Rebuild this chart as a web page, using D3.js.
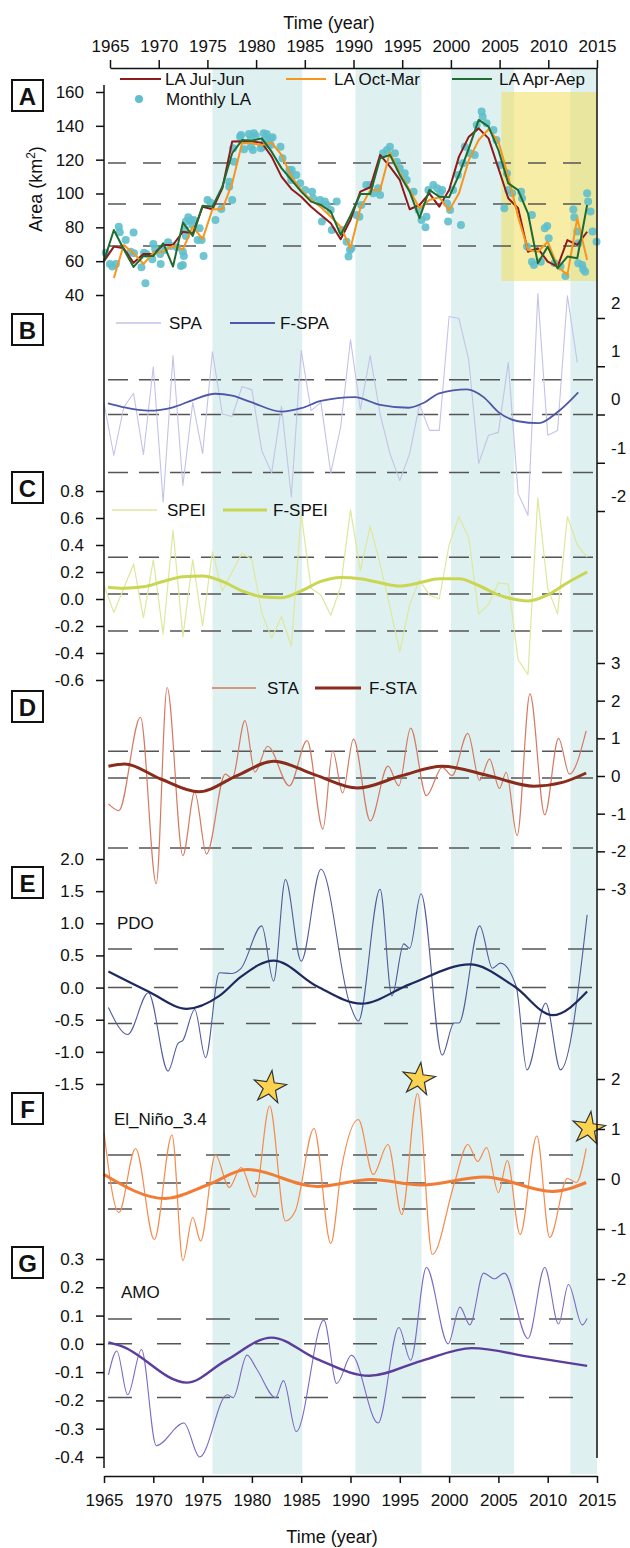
<!DOCTYPE html>
<html>
<head>
<meta charset="utf-8">
<script src="https://cdn.jsdelivr.net/npm/d3@7"></script>
<style>
  body { margin: 0; background: #fff; }
  svg text { font-family: "Liberation Sans", Arial, sans-serif; fill: #111; }
</style>
</head>
<body>
<div id="chart"></div>
<script>
// Seven stacked time series (lake area + climate indices), shared year axis 1965–2015.

// ---- data ----
const laYears = [1965, 1966, 1967, 1968, 1969, 1970, 1971, 1972, 1973, 1974,
  1975, 1976, 1977, 1978, 1979, 1980, 1981, 1982, 1983, 1984,
  1985, 1986, 1987, 1988, 1989, 1990, 1991, 1992, 1993, 1994,
  1995, 1996, 1997, 1998, 1999, 2000, 2001, 2002, 2003, 2004,
  2005, 2006, 2007, 2008, 2009, 2010, 2011, 2012, 2013, 2014];

const laJulJun = [60, 68.6, 67.6, 59, 64.3, 64.3, 69.6, 69.6, 77.4, 76.5,
  92.2, 90.7, 103, 130.7, 130.9, 130.7, 130, 121.8, 110, 102.7,
  98.1, 92.2, 87.3, 82.4, 73, 84.4, 101.1, 103.7, 122.8, 115.9,
  108, 90.7, 93.2, 100.1, 92.2, 102.1, 121.8, 133.6, 138.5, 132.6,
  114.9, 97.2, 91.3, 65.6, 67.6, 59.7, 56.8, 72.5, 69.6, 77.4];

// Oct-Mar starts one season later (1966)
const laOctMar = [50, 69.6, 64.7, 58.3, 65, 65.6, 69, 67, 80.4, 73,
  90.7, 90.7, 106, 129.7, 129.7, 128.7, 130, 122.8, 110, 102,
  96.2, 91.9, 86.3, 80.4, 67.6, 91.3, 102, 102, 124.2, 112,
  102, 91.3, 96.2, 97.8, 89.9, 100.1, 119.7, 131.6, 138, 130.7,
  110, 86.3, 66.6, 65.6, 71.5, 56.8, 51.9, 85.4, 60.7];

const laAprSep = [60.2, 78.4, 67, 56.6, 63, 63, 70.6, 56.8, 82.8, 74.9,
  92.8, 92.2, 104, 123.8, 131.6, 131.2, 132.6, 124.7, 115, 108,
  101.1, 95.2, 93.2, 89.3, 75.5, 87, 99.7, 99.7, 120.8, 122.8,
  111, 101.1, 85.4, 102.1, 98.1, 97.8, 111, 126.7, 143.5, 139.5,
  125.7, 106, 102, 88.3, 58.8, 68.6, 55.8, 62.7, 61.7, 93.2];

const monthlyLA = [
  [1965.17, 65], [1965.6, 58.3], [1965.85, 56.8], [1966.2, 58.3], [1966.5, 80.4], [1966.6, 77.1],
  [1967.2, 72.5], [1967.7, 65.6], [1968.0, 76.9], [1968.04, 64.7], [1968.8, 56.4], [1969.2, 46.9],
  [1969.06, 65], [1969.3, 64.3], [1970.0, 70.2], [1969.9, 61.1], [1970.2, 67], [1970.7, 64.3],
  [1970.75, 58.3], [1971.1, 66.6], [1971.5, 71.2], [1971.8, 69], [1972.4, 68.2], [1972.8, 57.2],
  [1973.0, 57.8], [1973.0, 65.6], [1973.1, 63.1], [1973.3, 74.9], [1973.2, 78.8], [1973.3, 83.4],
  [1973.55, 85.9], [1973.8, 84], [1973.95, 81.4], [1974.1, 84.3], [1974.5, 72.5], [1974.7, 79.4],
  [1974.9, 72.5], [1975.1, 63.1], [1975.5, 96.2], [1975.8, 94.6], [1976.3, 84.3], [1976.9, 90.9],
  [1977.7, 104], [1978.0, 96.2], [1977.7, 107], [1978.2, 118.8], [1978.1, 126.7], [1978.8, 133.6],
  [1978.9, 134.6], [1979.2, 126.1], [1979.7, 135.2], [1979.9, 132.6], [1979.9, 127.7], [1980.2, 135.6],
  [1980.4, 134], [1980.1, 125.7], [1980.9, 126.7], [1981.1, 127.7], [1981.2, 135.6], [1981.3, 131.6],
  [1981.5, 135.2], [1981.7, 129.7], [1981.9, 132.6], [1981.9, 128.7], [1982.1, 133.2], [1982.9, 127.7],
  [1983.1, 120.8], [1983.8, 113.9], [1983.9, 111], [1984.0, 108],
  [1984.04, 113.9], [1984.5, 110.9], [1984.9, 106], [1985.4, 102.1], [1986.1, 101.1], [1986.2, 97.2],
  [1986.9, 96.2], [1987.4, 95.2], [1987.6, 93.2], [1987.1, 83.4], [1988.0, 90.3], [1988.6, 95.2],
  [1988.1, 78.4], [1989.1, 78.4], [1989.6, 71.5], [1989.95, 66.6], [1989.8, 62.7], [1990.1, 67.6],
  [1990.6, 87.3], [1990.9, 86.3], [1991.1, 93.2], [1991.6, 105], [1991.98, 105], [1992.3, 100.1],
  [1992.8, 103.1], [1993.0, 99.1], [1993.3, 123.8], [1993.7, 125.7], [1994.0, 127.7], [1994.5, 123.8],
  [1994.7, 118.8], [1995.0, 114.9], [1995.5, 111.9], [1995.7, 108], [1996.4, 101.1], [1996.9, 90.3],
  [1997.2, 84.3], [1997.6, 80], [1997.7, 86.3], [1997.9, 102.1], [1998.4, 105], [1998.8, 103.1],
  [1999.1, 100.1], [1999.3, 102.1], [1999.8, 94.2], [1999.9, 83.4], [2000.1, 90.3], [2001.2, 81.4],
  [2000.4, 102.1], [2000.9, 110.9], [2001.4, 117.9], [2001.6, 127.7], [2002.1, 123.8], [2002.6, 122.8],
  [2002.8, 140.5], [2003.3, 148.4], [2003.4, 145.4], [2003.8, 141.5], [2004.5, 137.5], [2004.8, 131.6],
  [2005.2, 116.9], [2005.87, 111.9], [2006.0, 102.1], [2006.4, 100.1], [2007.3, 101.1], [2007.4, 97.2],
  [2005.6, 91.3], [2008.4, 87.3], [2007.9, 68.6], [2008.4, 59.7], [2008.6, 57.8], [2009.7, 79.4],
  [2009.95, 80.8], [2010.1, 73.5], [2009.3, 59.7], [2010.7, 58.7], [2011.3, 56.8], [2011.8, 51.3],
  [2012.6, 90.6], [2012.7, 85.9], [2013.0, 77.5], [2013.1, 70.6], [2013.1, 58.7], [2013.5, 57.8],
  [2013.6, 55.2], [2013.8, 53.8], [2014.0, 100.1], [2014.1, 95.2], [2014.35, 89.3], [2014.55, 77.5],
  [2014.95, 71.5]
];

// SPA annual 1965–2013, SPEI annual 1965–2014
const spa = [0.23, -0.85, 0.15, 0.44, -0.83, 0.99, -1.82, 1.22, -1.47, 0.25,
  -0.81, 1.30, 0.01, -0.04, 0.58, 0.51, -0.75, -1.21, 0.17, -1.71,
  1.33, 0.08, 0.25, -1.21, -0.26, 1.55, 0.10, 1.22, 0.01, -0.81,
  -1.37, -0.81, 0.21, -0.33, -0.33, 2.03, 1.99, 1.12, -1.01, -0.43,
  -0.37, 1.08, -1.64, -2.09, 2.50, -0.43, -0.33, 2.46, 1.08];
const fSpa = [[1965.4, 0.23], [1967, 0.15], [1969.5, 0.08], [1972, 0.15], [1974, 0.30], [1976.3, 0.43],
  [1978, 0.39], [1980, 0.25], [1983, 0.06], [1985, 0.13], [1987, 0.28], [1990.4, 0.36], [1993, 0.20],
  [1995.9, 0.14], [1997.5, 0.25], [1999, 0.44], [2001.8, 0.52], [2003.5, 0.36], [2005, 0.05],
  [2007, -0.14], [2009.1, -0.18], [2011, 0.05], [2013.1, 0.46]];

const spei = [0.10, -0.10, 0.08, 0.26, -0.14, 0.29, -0.26, 0.51, -0.28, 0.29,
  -0.20, 0.35, 0.06, 0.20, 0.34, 0.29, -0.10, -0.29, -0.13, -0.35,
  0.63, 0.08, 0.03, -0.12, 0.09, 0.66, 0.21, 0.54, 0.26, -0.06,
  -0.39, -0.04, 0.14, 0.03, 0.00, 0.40, 0.61, 0.45, -0.11, -0.04,
  0.12, 0.11, -0.45, -0.56, 0.75, 0.08, -0.11, 0.61, 0.40, 0.31];
const fSpei = [[1965.4, 0.087], [1967, 0.08], [1969, 0.09], [1971, 0.13], [1973, 0.165], [1975, 0.17],
  [1977, 0.13], [1979, 0.06], [1981, 0.017], [1983, 0.01], [1985, 0.06], [1987, 0.13], [1989, 0.16],
  [1991, 0.15], [1993, 0.12], [1995, 0.096], [1997, 0.12], [1999, 0.15], [2001, 0.15], [2003, 0.10],
  [2005, 0.03], [2007, -0.007], [2008, -0.015], [2010, 0.03], [2012, 0.12], [2014, 0.20]];

// smoothed curves given as turning points [year, value]
const sta = [[1965.45, -0.74], [1966.5, -0.92], [1968.7, 1.56], [1970.3, -2.86], [1971.4, 2.35],
  [1973.0, -2.11], [1974.2, -0.43], [1975.4, -2.07], [1977.3, 0.05], [1978.0, -0.06], [1979.3, 1.47],
  [1980.3, 0.10], [1981.6, 0.79], [1983.8, -0.26], [1985.6, 0.94], [1987.2, -1.41], [1988.2, 0.67],
  [1989.2, -0.45], [1990.3, 0.98], [1992.0, -1.19], [1993.8, 0.26], [1994.9, -0.26], [1996.1, 1.27],
  [1997.7, -0.52], [1999.3, 0.23], [2000.3, 0.01], [2001.9, 1.13], [2003.1, -0.12], [2004.1, 0.45],
  [2005.1, -0.33], [2005.8, 0.10], [2006.9, -1.58], [2008.2, 2.18], [2009.7, -1.03], [2011.1, 1.00],
  [2012.2, 0.05], [2013.9, 1.20]];
const fSta = [[1965.45, 0.26], [1967.1, 0.32], [1970.75, -0.08], [1974.6, -0.42], [1978.5, 0.01],
  [1982.2, 0.39], [1986.4, 0.03], [1990.7, -0.32], [1995.2, 0.01], [1999.3, 0.26], [2004.0, 0.01],
  [2008.6, -0.27], [2011.5, -0.17], [2013.9, 0.08]];

const pdo = [[1965.45, -0.31], [1967.4, -0.73], [1969.5, -0.08], [1971.5, -1.30], [1972.5, -0.87],
  [1973.0, -0.82], [1974.2, -0.34], [1975.3, -1.09], [1976.7, 0.23], [1977.9, 0.22], [1978.9, 0.30],
  [1981.0, 0.96], [1982.2, 0.10], [1983.4, 1.68], [1985.0, 0.41], [1987.0, 1.84], [1989.9, -0.24],
  [1990.8, -0.52], [1993.0, 1.53], [1994.2, -0.13], [1995.4, 0.68], [1996.0, 0.61], [1997.15, 1.46],
  [1999.3, -1.05], [2000.5, -0.55], [2001.0, -0.55], [2003.1, 0.96], [2004.4, 0.30], [2005.2, 0.38],
  [2006.8, 0.02], [2007.9, -1.28], [2009.8, -0.24], [2011.3, -1.28], [2014.0, 1.13]];
const fPdo = [[1965.45, 0.25], [1969.5, -0.06], [1973.4, -0.33], [1976.7, -0.13], [1978.9, 0.17],
  [1982.2, 0.42], [1986.6, 0.02], [1991.1, -0.25], [1996.0, 0.05], [2002.1, 0.36], [2006.6, 0.02],
  [2010.5, -0.43], [2014.0, -0.06]];

const nino = [[1965.0, 0.93], [1966.5, -0.67], [1968.2, 0.61], [1970.1, -1.21], [1971.9, 0.88],
  [1973.0, -1.63], [1974.0, -0.77], [1974.8, -1.24], [1976.3, 0.48], [1977.7, -0.17], [1978.9, 0.23],
  [1980.3, -0.36], [1981.8, 1.46], [1983.4, -0.84], [1984.4, -0.64], [1986.3, 1.01], [1988.0, -1.29],
  [1989.1, 0.23], [1990.8, 1.19], [1992.3, 0.09], [1993.8, 0.69], [1995.2, -0.71], [1996.8, 1.71],
  [1998.3, -1.51], [2000.5, -0.11], [2001.9, 0.69], [2002.9, 0.35], [2003.8, 0.63], [2005.0, -0.27],
  [2005.9, 0.37], [2007.2, -1.11], [2008.9, 0.86], [2010.2, -1.17], [2012.0, 0.01], [2012.9, -0.07],
  [2013.9, 0.61]];
const fNino = [[1965.0, 0.09], [1971.2, -0.39], [1975.6, -0.11], [1979.5, 0.19], [1986.6, -0.15],
  [1992.1, -0.01], [1997.2, -0.12], [2003.6, 0.04], [2010.5, -0.25], [2013.9, -0.07]];
const ninoStars = [[1981.8, 1.83], [1996.9, 1.99], [2014.15, 1.01]];

const amo = [[1965.45, -0.11], [1966.3, -0.025], [1967.4, -0.18], [1968.8, -0.02], [1970.3, -0.36],
  [1973.1, -0.28], [1974.7, -0.40], [1977.5, -0.18], [1978.1, -0.19], [1979.5, -0.04], [1980.5, -0.09],
  [1982.4, -0.19], [1983.2, -0.13], [1984.5, -0.31], [1987.3, 0.084], [1988.6, -0.14], [1990.1, -0.04],
  [1992.8, -0.28], [1994.9, 0.058], [1996.1, -0.058], [1997.7, 0.27], [1999.9, 0.0], [2001.1, 0.13],
  [2002.1, 0.067], [2003.5, 0.25], [2004.6, 0.23], [2005.6, 0.25], [2008.0, 0.019], [2009.7, 0.27],
  [2011.1, 0.07], [2012.1, 0.21], [2013.5, 0.067], [2014.0, 0.09]];
const fAmo = [[1965.45, 0.005], [1966.7, -0.007], [1973.4, -0.137], [1977.3, -0.06], [1982.0, 0.022],
  [1986.6, -0.054], [1991.9, -0.113], [1997.2, -0.06], [2002.3, -0.015], [2008.2, -0.046], [2014.0, -0.078]];

// shaded periods and threshold lines
const wetBands = [[1976, 1985.1], [1990.5, 1997.2], [2000.2, 2006.6], [2012.3, 2015]];
const dryBox = [2005.3, 2015, 48.3, 160];
const levelsA = [118, 93.8, 69];
const levelsB = [0.72, 0, -1.2];
const levelsC = [0.31, 0.037, -0.237];
const levelsD = [0.66, -0.05, -1.91];
const levelsE = [0.6, 0, -0.56];
const levelsF = [0.48, -0.08, -0.6];
const levelsG = [0.088, 0, -0.19];

// tick labels
const yearTicks = [1965, 1970, 1975, 1980, 1985, 1990, 1995, 2000, 2005, 2010, 2015];
const ticksA = [40, 60, 80, 100, 120, 140, 160];
const ticksB = [-2, -1, 0, 1, 2];
const ticksC = [-0.6, -0.4, -0.2, 0, 0.2, 0.4, 0.6, 0.8];
const ticksD = [-3, -2, -1, 0, 1, 2, 3];
const ticksE = [-1.5, -1, -0.5, 0, 0.5, 1, 1.5, 2];
const ticksF = [-2, -1, 0, 1, 2];
const ticksG = [-0.4, -0.3, -0.2, -0.1, 0, 0.1, 0.2, 0.3];

// ---- layout ----
const FONT = 17;
const x = d3.scaleLinear().domain([1965, 2015]).range([104, 597]);
const xTop = d3.scaleLinear().domain([1965, 2015]).range([110, 597]);

const yA = d3.scaleLinear().domain([40, 160]).range([295, 92]);
const yB = d3.scaleLinear().domain([-2, 2]).range([511, 318]);
const yC = d3.scaleLinear().domain([-0.6, 0.8]).range([680, 491]);
const yD = d3.scaleLinear().domain([-3, 3]).range([889, 663]);
const yE = d3.scaleLinear().domain([-1.5, 2]).range([1084, 859]);
const yF = d3.scaleLinear().domain([-2, 2]).range([1279, 1079]);
const yG = d3.scaleLinear().domain([-0.4, 0.3]).range([1457, 1259]);

const svg = d3.select('#chart').append('svg').attr('width', 630).attr('height', 1548);

// background bands
svg.append('g').selectAll('rect').data(wetBands).join('rect')
  .attr('x', (d) => x(d[0])).attr('width', (d) => x(d[1]) - x(d[0]))
  .attr('y', 68).attr('height', 1474 - 68)
  .attr('fill', '#dff0f0');

svg.append('rect')
  .attr('x', x(dryBox[0])).attr('width', x(dryBox[1]) - x(dryBox[0]))
  .attr('y', yA(dryBox[3])).attr('height', yA(dryBox[2]) - yA(dryBox[3]))
  .attr('fill', '#f1df5c').attr('opacity', 0.55);

// dashed threshold lines
function dashed(scale, levels, dash) {
  svg.append('g').selectAll('line').data(levels).join('line')
    .attr('x1', 108).attr('x2', 597)
    .attr('y1', (d) => scale(d)).attr('y2', (d) => scale(d))
    .attr('stroke', '#555').attr('stroke-width', 1.5)
    .attr('stroke-dasharray', dash);
}
dashed(yA, levelsA, '18,17');
dashed(yB, levelsB, '20,11');
dashed(yC, levelsC, '20,11');
dashed(yD, levelsD, '20,11');
dashed(yE, levelsE, '24,22');
dashed(yF, levelsF, '24,25');
dashed(yG, levelsG, '24,25');

// monthly lake area points
svg.append('g').selectAll('circle').data(monthlyLA).join('circle')
  .attr('cx', (d) => x(d[0])).attr('cy', (d) => yA(d[1])).attr('r', 4)
  .attr('fill', '#5fbfcb').attr('opacity', 0.9);

function drawLine(scale, pts, color, width, curve) {
  svg.append('path').datum(pts)
    .attr('fill', 'none').attr('stroke', color).attr('stroke-width', width)
    .attr('stroke-linejoin', 'round')
    .attr('d', d3.line().x((d) => x(d[0])).y((d) => scale(d[1])).curve(curve || d3.curveLinear));
}
const zipYears = (vals, offset = 0) => vals.map((v, i) => [laYears[i + offset], v]);
const smooth = d3.curveMonotoneX;

drawLine(yA, zipYears(laJulJun), '#8e1b1b', 2);
drawLine(yA, zipYears(laOctMar, 1), '#f7951d', 2);
drawLine(yA, zipYears(laAprSep), '#1f6b30', 2);

drawLine(yB, zipYears(spa), '#c3c3e8', 1.1);
drawLine(yB, fSpa, '#4e57a8', 1.8, smooth);

drawLine(yC, zipYears(spei), '#dde89e', 1.2);
drawLine(yC, fSpei, '#cad552', 3, smooth);

drawLine(yD, sta, '#d47a62', 1.2, smooth);
drawLine(yD, fSta, '#8a2c1c', 3, smooth);

drawLine(yE, pdo, '#4f5d9c', 1.1, smooth);
drawLine(yE, fPdo, '#1e2a5e', 2.2, smooth);

drawLine(yF, nino, '#f58a4c', 1.2, smooth);
drawLine(yF, fNino, '#f07c36', 3, smooth);

drawLine(yG, amo, '#7c6bc2', 1.1, smooth);
drawLine(yG, fAmo, '#5b3d9c', 2.4, smooth);

// stars over the strong El Niño peaks
svg.append('g').selectAll('path').data(ninoStars).join('path')
  .attr('transform', (d) => `translate(${x(d[0])},${yF(d[1])}) rotate(8)`)
  .attr('d', d3.symbol(d3.symbolStar, 330))
  .attr('fill', '#fdd24f').attr('stroke', '#333').attr('stroke-width', 1.2);

// ---- axes ----
function styleAxis(g) {
  g.attr('font-size', FONT).attr('font-family', '"Liberation Sans", Arial, sans-serif');
  g.selectAll('line, path').attr('stroke', '#111').attr('stroke-width', 1.5);
  g.selectAll('text').attr('fill', '#111');
}
const fmt1 = (d) => d.toFixed(1);
const fmt0 = (d) => String(d);

function leftAxis(scale, ticks, f) {
  svg.append('g').attr('transform', 'translate(104,0)')
    .call(d3.axisLeft(scale).tickValues(ticks).tickFormat(f).tickSize(8).tickPadding(12).tickSizeOuter(0))
    .call((g) => g.select('.domain').remove())
    .call(styleAxis);
}
function rightAxis(scale, ticks, shift) {
  svg.append('g').attr('transform', 'translate(597,0)')
    .call(d3.axisRight(scale).tickValues(ticks).tickFormat(fmt0).tickSize(8).tickPadding(6).tickSizeOuter(0))
    .call((g) => g.select('.domain').remove())
    .call((g) => g.selectAll('text').attr('transform', `translate(0,${shift})`))
    .call(styleAxis);
}
leftAxis(yA, ticksA, fmt0);
leftAxis(yC, ticksC, fmt1);
leftAxis(yE, ticksE, fmt1);
leftAxis(yG, ticksG, fmt1);
rightAxis(yB, ticksB, -15);
rightAxis(yD, ticksD, 0);
rightAxis(yF, ticksF, 0);

svg.append('line').attr('x1', 104).attr('x2', 104).attr('y1', 85).attr('y2', 1468)
  .attr('stroke', '#111').attr('stroke-width', 1.5);
svg.append('line').attr('x1', 597).attr('x2', 597).attr('y1', 68).attr('y2', 1458)
  .attr('stroke', '#111').attr('stroke-width', 1.5);

svg.append('g').attr('transform', 'translate(0,68)')
  .call(d3.axisTop(xTop).tickValues(yearTicks).tickFormat(d3.format('d')).tickSize(8).tickPadding(8).tickSizeOuter(0))
  .call(styleAxis);
svg.append('g').attr('transform', 'translate(0,1476)')
  .call(d3.axisBottom(x).tickValues(yearTicks).tickFormat(d3.format('d')).tickSize(7).tickPadding(11).tickSizeOuter(0))
  .call(styleAxis);

function label(px, py, text, size, anchor) {
  return svg.append('text').attr('x', px).attr('y', py).attr('dy', '0.35em')
    .attr('font-size', size || FONT).attr('text-anchor', anchor || 'start').text(text);
}
label(329, 23, 'Time (year)', 18, 'middle');
label(332, 1537, 'Time (year)', 18, 'middle');

const areaLabel = svg.append('text').attr('transform', 'translate(36,189) rotate(-90)')
  .attr('font-size', 18).attr('text-anchor', 'middle').attr('dy', '0.35em');
areaLabel.append('tspan').text('Area (km');
areaLabel.append('tspan').attr('font-size', 12).attr('baseline-shift', 'super').text('2');
areaLabel.append('tspan').text(')');

// ---- legends ----
function legendLine(x1, x2, py, color, width) {
  svg.append('line').attr('x1', x1).attr('x2', x2).attr('y1', py).attr('y2', py)
    .attr('stroke', color).attr('stroke-width', width);
}
legendLine(120, 161, 79, '#8e1b1b', 2.2); label(165, 79, 'LA Jul-Jun');
legendLine(286, 326, 79, '#f7951d', 2.2); label(334, 79, 'LA Oct-Mar');
legendLine(452, 492, 79, '#1f6b30', 2.2); label(499, 79, 'LA Apr-Aep');
svg.append('circle').attr('cx', 139).attr('cy', 99).attr('r', 4).attr('fill', '#5fbfcb');
label(166, 99, 'Monthly LA');

legendLine(116, 161, 323, '#c3c3e8', 1.3); label(169, 323, 'SPA');
legendLine(230, 275, 323, '#4e57a8', 2); label(280, 323, 'F-SPA');

legendLine(112, 157, 510, '#dde89e', 1.5); label(167, 510, 'SPEI');
legendLine(223, 267, 510, '#cad552', 3); label(273, 510, 'F-SPEI');

legendLine(212, 256, 688, '#d47a62', 1.5); label(267, 688, 'STA');
legendLine(315, 361, 688, '#8a2c1c', 3); label(369, 688, 'F-STA');

label(117, 923, 'PDO');
label(114, 1119, 'El_Niño_3.4');
label(121, 1292, 'AMO');

// ---- panel letters ----
const panelBoxes = [['A', 80], ['B', 314], ['C', 472], ['D', 691], ['E', 867], ['F', 1093], ['G', 1247]];
const boxes = svg.append('g').selectAll('g').data(panelBoxes).join('g')
  .attr('transform', (d) => `translate(12,${d[1]})`);
boxes.append('rect').attr('width', 31).attr('height', 31)
  .attr('fill', '#fff').attr('stroke', '#111').attr('stroke-width', 2);
boxes.append('text').attr('x', 15.5).attr('y', 16).attr('dy', '0.36em')
  .attr('text-anchor', 'middle').attr('font-size', 24).attr('font-weight', 'bold')
  .text((d) => d[0]);
</script>
</body>
</html>
